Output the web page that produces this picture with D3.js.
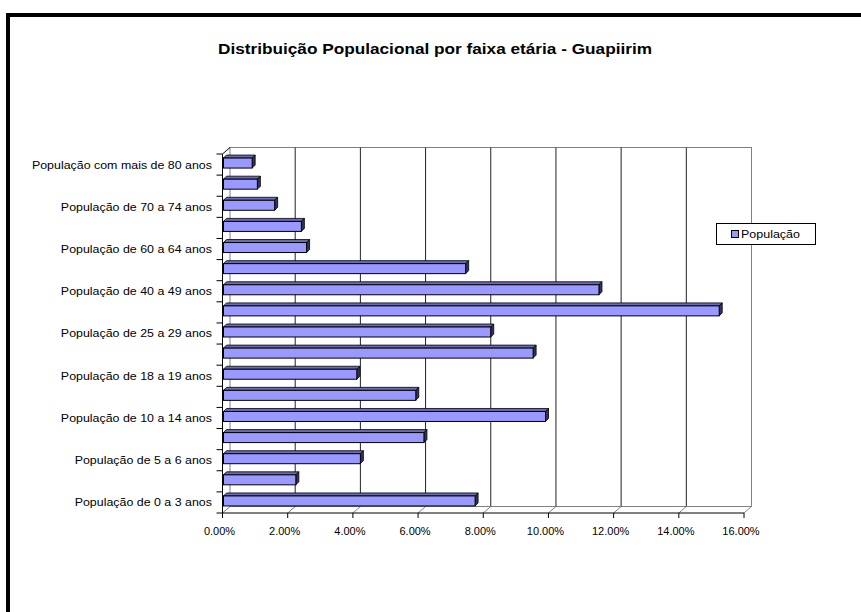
<!DOCTYPE html>
<html><head><meta charset="utf-8">
<script src="https://cdn.jsdelivr.net/npm/d3@7"></script>
<style>body{margin:0;background:#fff;}svg{display:block;}text{font-family:"Liberation Sans",Arial,sans-serif;}</style>
</head><body>
<svg id="c" width="861" height="612"></svg>
<script>
// Data (bottom to top)
const categories = [
  "População de 0 a 3 anos","População de 4 anos","População de 5 a 6 anos","População de 7 a 9 anos",
  "População de 10 a 14 anos","População de 15 a 17 anos","População de 18 a 19 anos","População de 20 a 24 anos",
  "População de 25 a 29 anos","População de 30 a 39 anos","População de 40 a 49 anos","População de 50 a 59 anos",
  "População de 60 a 64 anos","População de 65 a 69 anos","População de 70 a 74 anos","População de 75 a 79 anos",
  "População com mais de 80 anos"
];
const values = [7.75,2.25,4.23,6.18,9.91,5.93,4.12,9.53,8.23,15.24,11.55,7.46,2.58,2.42,1.60,1.07,0.91];
const xTickValues = [0,2,4,6,8,10,12,14,16];
const seriesName = "População";
const title = "Distribuição Populacional por faixa etária - Guapiirim";

const svg = d3.select("#c");
// outer frame
svg.append("rect").attr("x",8).attr("y",15).attr("width",900).attr("height",700)
  .attr("fill","none").attr("stroke","#000").attr("stroke-width",4);

svg.append("text").attr("x",435).attr("y",54).attr("text-anchor","middle")
  .attr("font-size","15px").attr("font-weight","bold")
  .attr("textLength",434).attr("lengthAdjust","spacingAndGlyphs").text(title);

const dx = 7.5, dy = -6.5; // 3D depth offset
const x = d3.scaleLinear().domain([0,16]).range([222.5,744]);
const y = d3.scaleBand().domain(categories).range([513,154]).padding(0);

const g = svg.append("g");
// back wall
g.append("rect").attr("x",x(0)+dx).attr("y",154+dy).attr("width",x(16)-x(0)).attr("height",513-154)
  .attr("fill","#fff").attr("stroke","#808080").attr("stroke-width",1);
// gridlines on back wall
g.selectAll(".grid").data(xTickValues.slice(1,-1)).join("line")
  .attr("x1",d=>x(d)+dx).attr("x2",d=>x(d)+dx).attr("y1",154+dy).attr("y2",513+dy)
  .attr("stroke","#222").attr("stroke-width",1);
// floor lines
g.selectAll(".floor").data(xTickValues).join("line")
  .attr("x1",d=>x(d)+dx).attr("y1",513+dy).attr("x2",d=>x(d)).attr("y2",513)
  .attr("stroke","#808080").attr("stroke-width",1);
// x axis front line + ticks
g.append("line").attr("x1",x(0)).attr("x2",x(16)).attr("y1",513).attr("y2",513).attr("stroke","#000");
g.selectAll(".xt").data(xTickValues).join("line")
  .attr("x1",d=>x(d)).attr("x2",d=>x(d)).attr("y1",513).attr("y2",518).attr("stroke","#000");
g.selectAll(".xl").data(xTickValues).join("text")
  .attr("x",d=>x(d)-3).attr("y",535).attr("text-anchor","middle").attr("font-size","11px")
  .text(d=>d.toFixed(2)+"%");
// left axis
g.append("line").attr("x1",x(0)).attr("x2",x(0)).attr("y1",154).attr("y2",513).attr("stroke","#000");
g.append("line").attr("x1",x(0)).attr("y1",154).attr("x2",x(0)+dx).attr("y2",154+dy).attr("stroke","#000");
const bounds = categories.map(c=>y(c)).concat([513]);
g.selectAll(".yt").data(bounds).join("line")
  .attr("x1",x(0)-6).attr("x2",x(0)).attr("y1",d=>d).attr("y2",d=>d).attr("stroke","#000");
g.selectAll(".yl").data(categories.filter((c,i)=>i%2===0)).join("text")
  .attr("x",212).attr("y",d=>y(d)+y.bandwidth()/2+4).attr("text-anchor","end").attr("font-size","11px")
  .attr("transform",d=>`translate(${212*(1-1.13)},0) scale(1.13,1)`)
  .text(d=>d);

// bars
const bh = 10, bd = 3;
const bars = g.selectAll(".bar").data(categories.map((c,i)=>({c,v:values[i]}))).join("g");
bars.each(function(d){
  const s = d3.select(this);
  const x0 = x(0)+1, x1 = x(d.v);
  const yt = y(d.c)+y.bandwidth()/2-1.5-bh/2, yb = yt+bh;
  s.append("path").attr("d",`M${x0},${yt}L${x0+bd},${yt-bd}L${x1+bd},${yt-bd}L${x1},${yt}Z`)
    .attr("fill","#6b6bb3").attr("stroke","#000").attr("stroke-width",0.8).attr("stroke-linejoin","round");
  s.append("path").attr("d",`M${x1},${yt}L${x1+bd},${yt-bd}L${x1+bd},${yb-bd}L${x1},${yb}Z`)
    .attr("fill","#33335c").attr("stroke","#000").attr("stroke-width",0.8).attr("stroke-linejoin","round");
  s.append("rect").attr("x",x0).attr("y",yt).attr("width",x1-x0).attr("height",bh)
    .attr("fill","#9999ff").attr("stroke","#000").attr("stroke-width",1);
});

// legend
const lg = svg.append("g");
lg.append("rect").attr("x",716.5).attr("y",223.5).attr("width",99).attr("height",21)
  .attr("fill","#fff").attr("stroke","#000");
lg.append("rect").attr("x",731.5).attr("y",230.5).attr("width",7).attr("height",7)
  .attr("fill","#9999ff").attr("stroke","#000");
lg.append("text").attr("x",741).attr("y",238).attr("font-size","11px")
  .attr("textLength",59).attr("lengthAdjust","spacingAndGlyphs").text(seriesName);
</script>
</body></html>
